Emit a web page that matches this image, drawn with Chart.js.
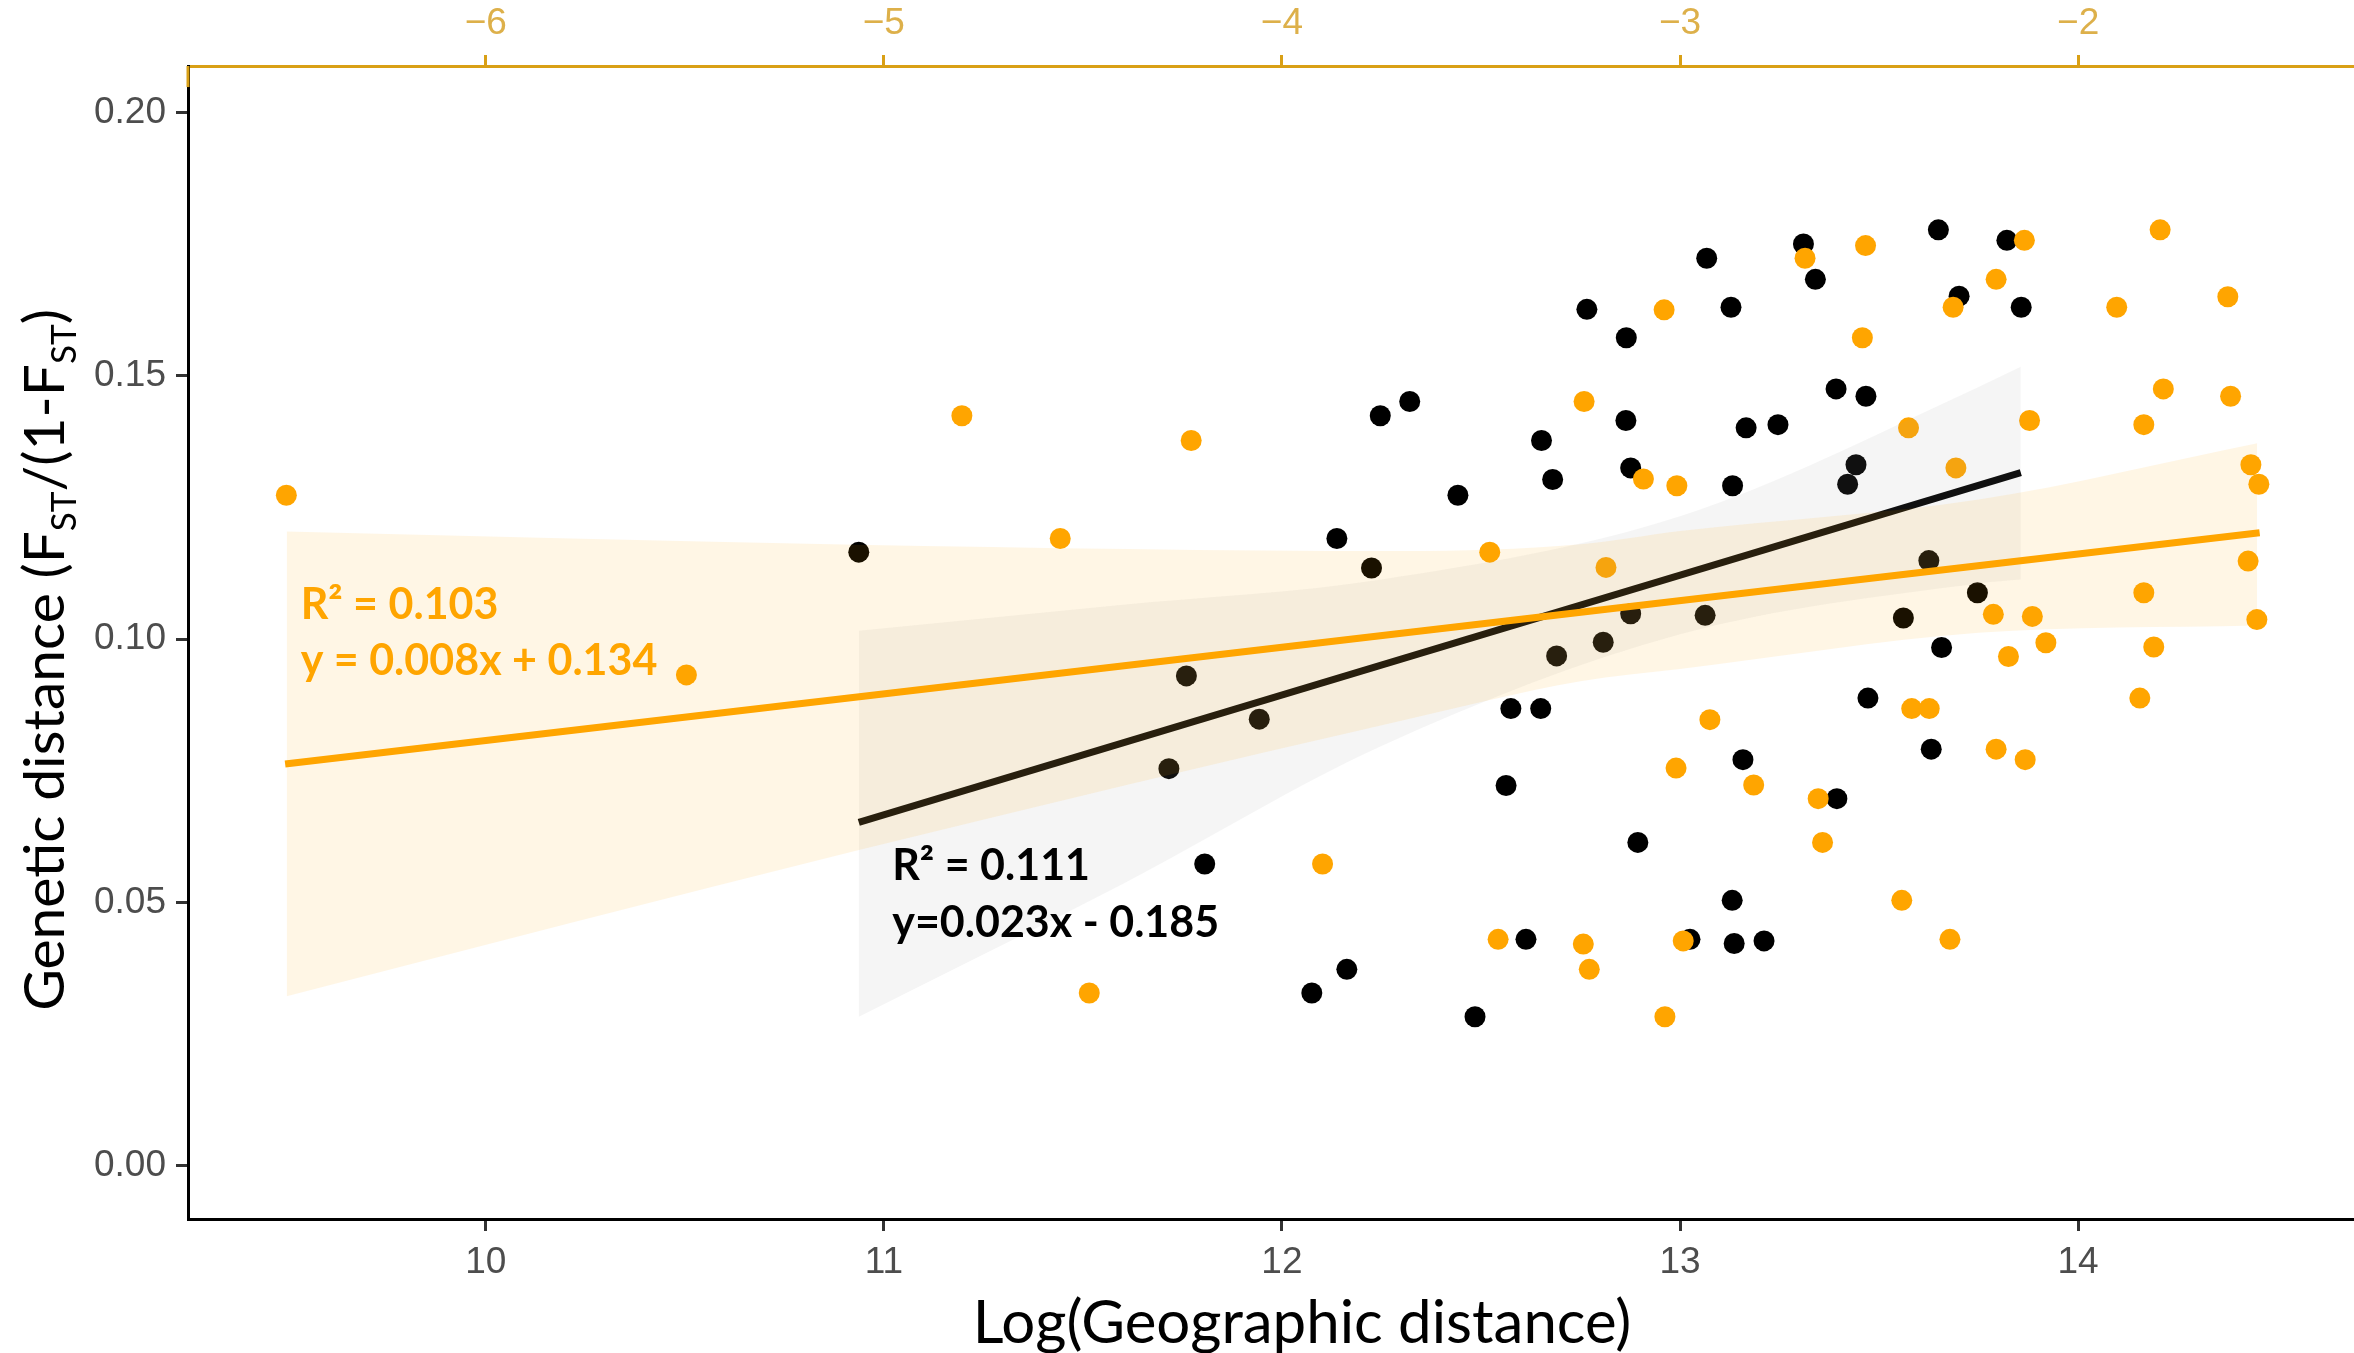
<!DOCTYPE html>
<html>
<head>
<meta charset="utf-8">
<script src="https://cdn.jsdelivr.net/npm/chart.js@4.4.0/dist/chart.umd.min.js"></script>
<style>
  html, body { margin: 0; padding: 0; background: #fff; }
  #wrap { width: 2354px; height: 1353px; }
</style>
</head>
<body>
<div id="wrap"><canvas id="myChart" width="2354" height="1353"></canvas></div>
<script>
// black set, read against the bottom axis (log geographic distance)
const blackX = [10.937, 11.716, 11.760, 11.806, 11.943, 12.075, 12.138, 12.163, 12.225, 12.247,
  12.321, 12.442, 12.485, 12.563, 12.575, 12.613, 12.650, 12.652, 12.680, 12.690,
  12.766, 12.807, 12.864, 12.865, 12.876, 12.876, 12.894, 13.025, 13.063, 13.067,
  13.128, 13.131, 13.132, 13.136, 13.158, 13.166, 13.211, 13.246, 13.310, 13.340,
  13.392, 13.394, 13.421, 13.442, 13.467, 13.472, 13.561, 13.625, 13.631, 13.649,
  13.657, 13.701, 13.747, 13.821, 13.857];
const blackY = [0.1165, 0.0754, 0.0930, 0.0573, 0.0848, 0.0328, 0.1191, 0.0373, 0.1135, 0.1424,
  0.1451, 0.1273, 0.0283, 0.0722, 0.0868, 0.0430, 0.0868, 0.1377, 0.1303, 0.0968,
  0.1626, 0.0994, 0.1415, 0.1572, 0.1325, 0.1048, 0.0614, 0.0430, 0.1045, 0.1723,
  0.1630, 0.0504, 0.1291, 0.0422, 0.0771, 0.1401, 0.0427, 0.1407, 0.1750, 0.1683,
  0.1475, 0.0697, 0.1294, 0.1331, 0.1461, 0.0888, 0.1040, 0.1149, 0.0791, 0.1777,
  0.0984, 0.1651, 0.1088, 0.1757, 0.1630];

// orange set, read against the top axis
const orangeX = [-6.501, -5.496, -4.804, -4.557, -4.484, -4.228, -3.898, -3.478, -3.457, -3.243,
  -3.241, -3.228, -3.186, -3.092, -3.040, -3.038, -3.010, -3.008, -2.992, -2.925,
  -2.815, -2.686, -2.653, -2.642, -2.542, -2.534, -2.443, -2.426, -2.418, -2.374,
  -2.322, -2.314, -2.307, -2.213, -2.206, -2.206, -2.175, -2.135, -2.133, -2.122,
  -2.115, -2.081, -1.903, -1.845, -1.835, -1.835, -1.810, -1.794, -1.786, -1.624,
  -1.617, -1.573, -1.566, -1.551, -1.546];
const orangeY = [0.1273, 0.0932, 0.1424, 0.1191, 0.0328, 0.1377, 0.0573, 0.1165, 0.0430, 0.0421,
  0.1451, 0.0373, 0.1136, 0.1304, 0.1625, 0.0283, 0.0755, 0.1291, 0.0427, 0.0847,
  0.0723, 0.1723, 0.0697, 0.0614, 0.1572, 0.1747, 0.0504, 0.1401, 0.0868, 0.0868,
  0.0430, 0.1630, 0.1325, 0.1047, 0.1683, 0.0791, 0.0967, 0.1757, 0.0771, 0.1415,
  0.1043, 0.0993, 0.1630, 0.0888, 0.1407, 0.1088, 0.0985, 0.1777, 0.1475, 0.1650,
  0.1461, 0.1148, 0.1331, 0.1037, 0.1294];

// fitted lines and confidence bands
const blackFitX = [10.937, 13.856];
const blackFitY = [0.0652, 0.1316];
const blackBandX = [10.937, 11.6, 12.25, 13.0, 13.754, 13.856];
const blackBandLow = [0.0283, 0.0535, 0.0797, 0.1009, 0.1106, 0.1113];
const blackBandHigh = [0.1016, 0.1065, 0.1113, 0.1233, 0.1480, 0.1517];

const orangeFitX = [-6.504, -1.544];
const orangeFitY = [0.0763, 0.1202];
const orangeBandX = [-6.50, -5.07, -3.70, -3.25, -3.00, -2.25, -1.55];
const orangeBandLow = [0.0322, 0.0598, 0.0845, 0.0920, 0.0943, 0.1012, 0.1026];
const orangeBandHigh = [0.1204, 0.1179, 0.1167, 0.1180, 0.1205, 0.1265, 0.1372];

// ticks
const xTicks = [10, 11, 12, 13, 14];
const xTickLabels = ['10', '11', '12', '13', '14'];
const x2Ticks = [-6, -5, -4, -3, -2];
const x2TickLabels = ['\u22126', '\u22125', '\u22124', '\u22123', '\u22122'];
const yTicks = [0, 0.05, 0.10, 0.15, 0.20];
const yTickLabels = ['0.00', '0.05', '0.10', '0.15', '0.20'];

const orange = '#FFA500';
const gold = '#D9A016';
const tickFont = { family: 'Liberation Sans', size: 37 };

function pts(xs, ys) {
  return xs.map((v, i) => ({ x: v, y: ys[i] }));
}
function labelFor(ticks, labels) {
  return function (value) {
    const i = ticks.findIndex(t => Math.abs(t - value) < 1e-9);
    return i < 0 ? '' : labels[i];
  };
}
// fixed axis sizes, no extra padding from edge labels
function fixSize(w, h) {
  return function (s) {
    if (w != null) s.width = w;
    if (h != null) s.height = h;
    s.paddingLeft = 0; s.paddingRight = 0; s.paddingTop = 0; s.paddingBottom = 0;
  };
}

// titles with subscripts and the equation notes
const textPlugin = {
  id: 'extraText',
  afterDraw(chart) {
    const ctx = chart.ctx;
    const sx = chart.scales.x, sy = chart.scales.y;
    const area = chart.chartArea;
    ctx.save();

    // small orange piece where the top axis meets the left one
    ctx.strokeStyle = gold;
    ctx.lineWidth = 3;
    ctx.beginPath();
    ctx.moveTo(area.left, area.top);
    ctx.lineTo(area.left, sy.getPixelForValue(0.2048));
    ctx.stroke();

    // equations
    ctx.textAlign = 'left';
    ctx.textBaseline = 'alphabetic';
    ctx.font = 'bold 43px Lato';
    ctx.fillStyle = orange;
    ctx.fillText('R\u00B2 = 0.103', sx.getPixelForValue(9.535), sy.getPixelForValue(0.1038));
    ctx.fillText('y = 0.008x + 0.134', sx.getPixelForValue(9.535), sy.getPixelForValue(0.0931));
    ctx.fillStyle = '#000';
    ctx.fillText('R\u00B2 = 0.111', sx.getPixelForValue(11.021), sy.getPixelForValue(0.0542));
    ctx.fillText('y=0.023x - 0.185', sx.getPixelForValue(11.021), sy.getPixelForValue(0.0435));

    // x title
    ctx.fillStyle = '#000';
    ctx.font = '60px Lato';
    ctx.textAlign = 'center';
    ctx.fillText('Log(Geographic distance)', 1302, 1343);

    // y title, rotated, with subscripts
    const parts = [['Genetic distance (F', false], ['ST', true], ['/(1-F', false], ['ST', true], [')', false]];
    const big = '57px Lato', small = '35px Lato';
    let total = 0;
    parts.forEach(p => { ctx.font = p[1] ? small : big; total += ctx.measureText(p[0]).width; });
    ctx.translate(64, 660);
    ctx.rotate(-Math.PI / 2);
    ctx.textAlign = 'left';
    let cx = -total / 2;
    parts.forEach(p => {
      ctx.font = p[1] ? small : big;
      ctx.fillText(p[0], cx, p[1] ? 12 : 0);
      cx += ctx.measureText(p[0]).width;
    });
    ctx.restore();
  }
};

const ctx = document.getElementById('myChart');

new Chart(ctx, {
  type: 'scatter',
  data: {
    datasets: [
      { label: 'black', data: pts(blackX, blackY), xAxisID: 'x', yAxisID: 'y',
        backgroundColor: '#000', borderWidth: 0, pointRadius: 10.5, order: 10 },
      { label: 'orange', data: pts(orangeX, orangeY), xAxisID: 'x2', yAxisID: 'y',
        backgroundColor: orange, borderWidth: 0, pointRadius: 10.5, order: 9 },
      { type: 'line', label: 'black fit', data: pts(blackFitX, blackFitY), xAxisID: 'x', yAxisID: 'y',
        borderColor: '#000', borderWidth: 7, pointRadius: 0, fill: false, order: 8 },
      { type: 'line', label: 'black band low', data: pts(blackBandX, blackBandLow), xAxisID: 'x', yAxisID: 'y',
        borderColor: 'rgba(0,0,0,0)', borderWidth: 0, pointRadius: 0, fill: false,
        cubicInterpolationMode: 'monotone', order: 7 },
      { type: 'line', label: 'black band high', data: pts(blackBandX, blackBandHigh), xAxisID: 'x', yAxisID: 'y',
        borderColor: 'rgba(0,0,0,0)', borderWidth: 0, pointRadius: 0, fill: '-1',
        backgroundColor: 'rgba(153,153,153,0.1)', cubicInterpolationMode: 'monotone', order: 7 },
      { type: 'line', label: 'orange band low', data: pts(orangeBandX, orangeBandLow), xAxisID: 'x2', yAxisID: 'y',
        borderColor: 'rgba(0,0,0,0)', borderWidth: 0, pointRadius: 0, fill: false,
        cubicInterpolationMode: 'monotone', order: 6 },
      { type: 'line', label: 'orange band high', data: pts(orangeBandX, orangeBandHigh), xAxisID: 'x2', yAxisID: 'y',
        borderColor: 'rgba(0,0,0,0)', borderWidth: 0, pointRadius: 0, fill: '-1',
        backgroundColor: 'rgba(255,165,0,0.1)', cubicInterpolationMode: 'monotone', order: 6 },
      { type: 'line', label: 'orange fit', data: pts(orangeFitX, orangeFitY), xAxisID: 'x2', yAxisID: 'y',
        borderColor: orange, borderWidth: 7, pointRadius: 0, fill: false, order: 1 }
    ]
  },
  options: {
    responsive: false,
    animation: false,
    layout: { padding: 0, autoPadding: false },
    plugins: {
      legend: { display: false },
      tooltip: { enabled: false }
    },
    scales: {
      x: {
        type: 'linear', position: 'bottom', min: 9.252, max: 14.693,
        afterBuildTicks: s => { s.ticks = xTicks.map(v => ({ value: v })); },
        afterFit: fixSize(null, 134),
        grid: { display: true, drawOnChartArea: false, drawTicks: true, tickLength: 12,
                tickWidth: 3, tickColor: '#333' },
        border: { display: true, color: '#000', width: 3 },
        ticks: { padding: 10, color: '#4D4D4D', font: tickFont, maxRotation: 0, autoSkip: false,
                 callback: labelFor(xTicks, xTickLabels) }
      },
      x2: {
        type: 'linear', position: 'top', min: -6.748, max: -1.307,
        afterBuildTicks: s => { s.ticks = x2Ticks.map(v => ({ value: v })); },
        afterFit: fixSize(null, 66),
        grid: { display: true, drawOnChartArea: false, drawTicks: true, tickLength: 11,
                tickWidth: 3, tickColor: gold },
        border: { display: true, color: gold, width: 3 },
        ticks: { padding: 9, color: '#DDB04A', font: tickFont, maxRotation: 0, autoSkip: false,
                 callback: labelFor(x2Ticks, x2TickLabels) }
      },
      y: {
        type: 'linear', position: 'left', min: -0.0101, max: 0.2088,
        afterBuildTicks: s => { s.ticks = yTicks.map(v => ({ value: v })); },
        afterFit: fixSize(188, null),
        grid: { display: true, drawOnChartArea: false, drawTicks: true, tickLength: 12,
                tickWidth: 3, tickColor: '#333' },
        border: { display: true, color: '#000', width: 3 },
        ticks: { padding: 10, color: '#4D4D4D', font: tickFont,
                 callback: labelFor(yTicks, yTickLabels) }
      }
    }
  },
  plugins: [textPlugin]
});
</script>
</body>
</html>
